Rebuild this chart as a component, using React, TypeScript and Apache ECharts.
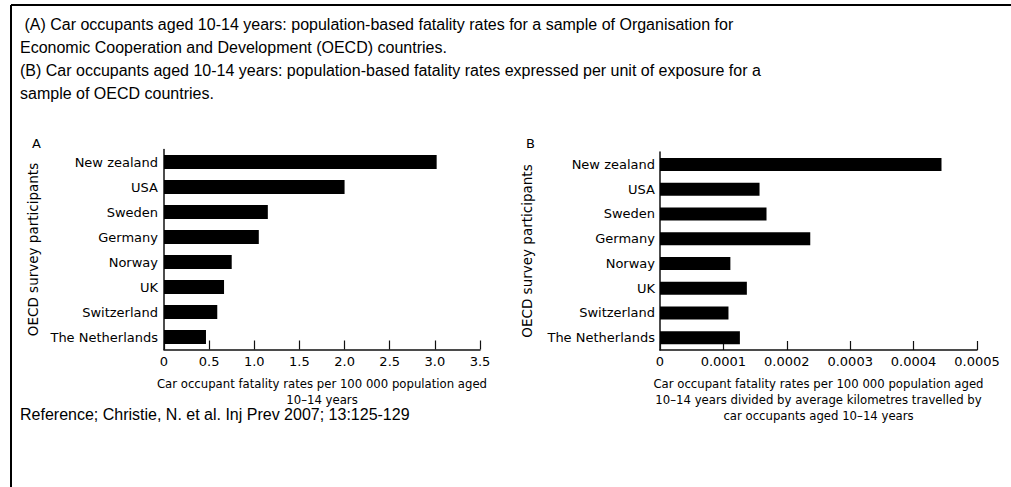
import React, { useEffect, useRef } from "react";
import * as echarts from "echarts";

const categories = [
  "New zealand",
  "USA",
  "Sweden",
  "Germany",
  "Norway",
  "UK",
  "Switzerland",
  "The Netherlands",
];
const ratesA = [3.02, 2.0, 1.15, 1.05, 0.75, 0.665, 0.59, 0.465];
const ratesB = [0.000444, 0.000157, 0.000168, 0.000237, 0.000111, 0.000137, 0.000108, 0.000126];
const headerLines = [
  " (A) Car occupants aged 10-14 years: population-based fatality rates for a sample of Organisation for",
  "Economic Cooperation and Development (OECD) countries.",
  "(B) Car occupants aged 10-14 years: population-based fatality rates expressed per unit of exposure for a",
  "sample of OECD countries.",
];
const referenceText = "Reference; Christie, N. et al. Inj Prev 2007; 13:125-129";
const yAxisTitle = "OECD survey participants";
const xAxisTitleA = "Car occupant fatality rates per 100 000 population aged\n10\u201314 years";
const xAxisTitleB =
  "Car occupant fatality rates per 100 000 population aged\n10\u201314 years divided by average kilometres travelled by\ncar occupants aged 10\u201314 years";

const CHART_FONT = "DejaVu Sans";
const HEAD_FONT = "Liberation Sans, Arial, sans-serif";

function yAxisCfg(gridIndex: number, margin: number, gap: number) {
  return {
    type: "category",
    gridIndex,
    data: categories,
    inverse: true,
    name: yAxisTitle,
    nameLocation: "middle",
    nameGap: gap,
    nameTextStyle: { fontFamily: CHART_FONT, fontSize: 13.5, color: "#000" },
    axisLine: { lineStyle: { color: "#111", width: 1.5 } },
    axisTick: { inside: true, length: 10, lineStyle: { color: "#111", width: 1.2 } },
    axisLabel: { margin, fontFamily: CHART_FONT, fontSize: 13, color: "#000" },
  };
}

function xAxisCfg(gridIndex: number, max: number, interval: number, digits: number, name: string) {
  return {
    type: "value",
    gridIndex,
    min: 0,
    max,
    interval,
    name,
    nameLocation: "middle",
    nameGap: 26,
    nameTextStyle: { fontFamily: CHART_FONT, fontSize: 11.7, color: "#000", lineHeight: 16 },
    axisLine: { show: true, lineStyle: { color: "#111", width: 1.5 } },
    axisTick: { show: true, inside: true, length: 9, lineStyle: { color: "#111", width: 1.2 } },
    splitLine: { show: false },
    axisLabel: {
      margin: 5,
      fontFamily: CHART_FONT,
      fontSize: 13,
      color: "#000",
      formatter: (v: number) => (v === 0 ? "0" : v.toFixed(digits)),
    },
  };
}

export default function App() {
  const ref = useRef<HTMLDivElement>(null);
  useEffect(() => {
    if (!ref.current) return;
    const chart = echarts.init(ref.current, undefined, { renderer: "svg" });
    const graphics: any[] = [
      { type: "line", shape: { x1: 11, y1: 5, x2: 1011, y2: 5 }, style: { stroke: "#000", lineWidth: 2 } },
      { type: "line", shape: { x1: 11, y1: 5, x2: 11, y2: 487 }, style: { stroke: "#000", lineWidth: 2 } },
      ...headerLines.map((t, i) => ({
        type: "text",
        x: 20,
        y: 24 + i * 23,
        style: { text: t, font: `16px ${HEAD_FONT}`, fill: "#000", textVerticalAlign: "middle" },
      })),
      {
        type: "text",
        x: 20,
        y: 414,
        style: { text: referenceText, font: `16px ${HEAD_FONT}`, fill: "#000", textVerticalAlign: "middle" },
      },
      {
        type: "text",
        x: 32,
        y: 143,
        style: { text: "A", font: `13px ${CHART_FONT}`, fill: "#000", textVerticalAlign: "middle" },
      },
      {
        type: "text",
        x: 526,
        y: 143,
        style: { text: "B", font: `13px ${CHART_FONT}`, fill: "#000", textVerticalAlign: "middle" },
      },
    ];
    chart.setOption({
      animation: false,
      backgroundColor: "#fff",
      graphic: graphics,
      grid: [
        { left: 164, top: 149.5, width: 316, height: 200, containLabel: false },
        { left: 660, top: 152, width: 317, height: 198, containLabel: false },
      ],
      xAxis: [
        xAxisCfg(0, 3.5, 0.5, 1, xAxisTitleA),
        xAxisCfg(1, 0.0005, 0.0001, 4, xAxisTitleB),
      ],
      yAxis: [yAxisCfg(0, 6, 124), yAxisCfg(1, 5, 126)],
      series: [
        {
          type: "bar",
          xAxisIndex: 0,
          yAxisIndex: 0,
          data: ratesA,
          barWidth: 14,
          itemStyle: { color: "#000" },
        },
        {
          type: "bar",
          xAxisIndex: 1,
          yAxisIndex: 1,
          data: ratesB,
          barWidth: 13,
          itemStyle: { color: "#000" },
        },
      ],
    });
    return () => chart.dispose();
  }, []);
  return (
    <div
      ref={ref}
      style={{ position: "fixed", left: 0, top: 0, width: 1011, height: 487, background: "#fff" }}
    />
  );
}
